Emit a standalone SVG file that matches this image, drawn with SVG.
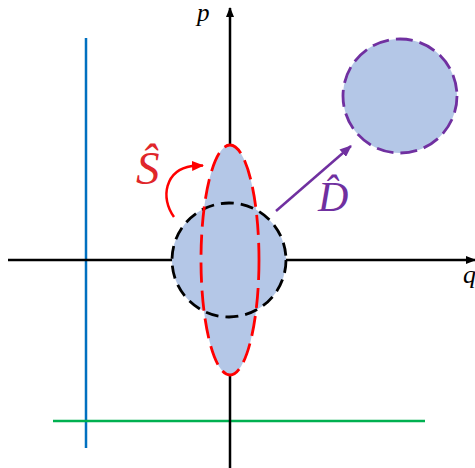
<svg xmlns="http://www.w3.org/2000/svg" width="475" height="468" viewBox="0 0 475 468">
<style>
.fill{fill:#b4c7e7}
</style>
<defs>
<marker id="ak" markerWidth="10" markerHeight="8" refX="9" refY="4" orient="auto" markerUnits="userSpaceOnUse"><path d="M0,0 L10,4 L0,8 Z" fill="#000"/></marker>
<marker id="ap" markerWidth="12" markerHeight="10" refX="11" refY="5" orient="auto" markerUnits="userSpaceOnUse"><path d="M0,0 L12,5 L0,10 Z" fill="#7030a0"/></marker>
<marker id="ar" markerWidth="12" markerHeight="10" refX="11" refY="5" orient="auto" markerUnits="userSpaceOnUse"><path d="M0,0 L12,5 L0,10 Z" fill="#ff0000"/></marker>
</defs>
<rect width="475" height="468" fill="#fff"/>
<g id="lines">
<line x1="86" y1="38" x2="86" y2="448" stroke="#0070c0" stroke-width="2.5"/>
<line x1="53" y1="421" x2="425" y2="421" stroke="#00b050" stroke-width="2.5"/>
</g>
<g id="axes">
<line x1="230" y1="468" x2="230" y2="8" stroke="#000" stroke-width="2.5" marker-end="url(#ak)"/>
<line x1="8" y1="260" x2="475" y2="260" stroke="#000" stroke-width="2.5" marker-end="url(#ak)"/>
</g>
<g id="shapes">
<circle cx="229" cy="260" r="57" class="fill"/>
<ellipse cx="230" cy="260" rx="29" ry="115" class="fill"/>
<circle cx="229" cy="260" r="57" fill="none" stroke="#000" stroke-width="2.8" stroke-dasharray="13,7"/>
<ellipse cx="230" cy="260" rx="29" ry="115" fill="none" stroke="#ff0000" stroke-width="2.8" stroke-dasharray="20,8"/>
</g>
<g id="displaced">
<circle cx="400" cy="96" r="57" class="fill" stroke="#7030a0" stroke-width="2.8" stroke-dasharray="17,7"/>
</g>
<g id="connectors">
<line x1="276" y1="211" x2="351" y2="146" stroke="#7030a0" stroke-width="2.5" marker-end="url(#ap)"/>
<path d="M174,217 C160,198 165,170 192,166 L203,165.5" fill="none" stroke="#ff0000" stroke-width="2.5" marker-end="url(#ar)"/>
</g>
<g id="labels" font-family="Liberation Serif, serif" font-style="italic">
<text x="136" y="184" font-size="47" fill="#e0262a">Ŝ</text>
<text x="318" y="211" font-size="42" fill="#7030a0">D̂</text>
<text x="197" y="21" font-size="25" fill="#000">p</text>
<text x="463" y="283" font-size="26" fill="#000">q</text>
</g>
</svg>
